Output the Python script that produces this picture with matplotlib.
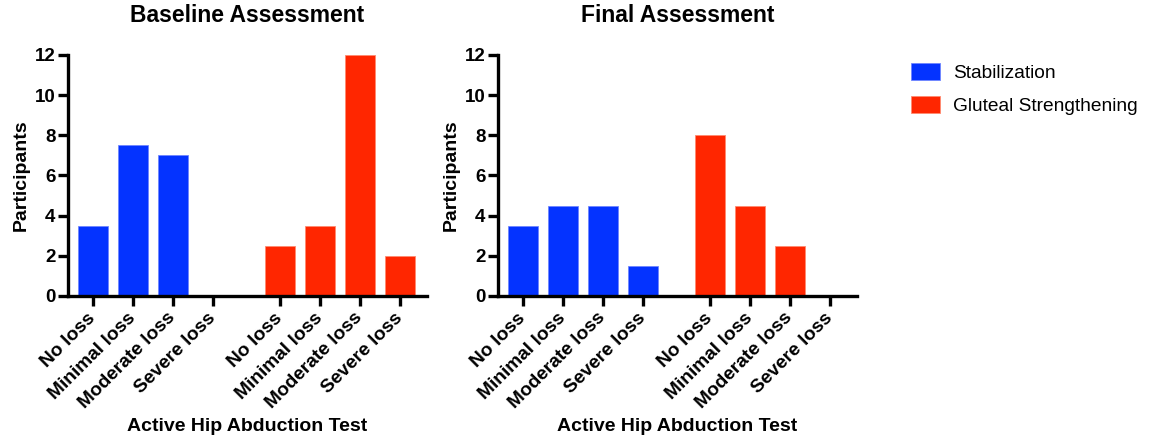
import numpy as np
import matplotlib.pyplot as plt
from matplotlib.patches import Patch

# severity categories and participant counts
categories = ['No loss', 'Minimal loss', 'Moderate loss', 'Severe loss']
groups = ['Stabilization', 'Gluteal Strengthening']
baseline_stab = [3.5, 7.5, 7.0, 0.0]
baseline_glut = [2.5, 3.5, 12.0, 2.0]
final_stab = [3.5, 4.5, 4.5, 1.5]
final_glut = [8.0, 4.5, 2.5, 0.0]
titles = ['Baseline Assessment', 'Final Assessment']
yticks = [0, 2, 4, 6, 8, 10, 12]

BLUE = '#0433FF'
RED = '#FF2600'

plt.rcParams['font.family'] = ['Liberation Sans', 'DejaVu Sans']

fig = plt.figure(figsize=(11.49, 4.37), dpi=100)

# bar positions: second group shifted by a gap
pos_stab = np.arange(4)
pos_glut = np.arange(4) + 4.67
positions = np.concatenate([pos_stab, pos_glut])

axes_left = [0.0592, 0.4334]
data = [(baseline_stab, baseline_glut), (final_stab, final_glut)]

for i in range(2):
    ax = fig.add_axes([axes_left[i], 0.3227, 0.3125, 0.5515])
    stab, glut = data[i]
    ax.bar(pos_stab, stab, width=0.75, color=BLUE, edgecolor='#6f86ff', linewidth=0.6)
    ax.bar(pos_glut, glut, width=0.75, color=RED, edgecolor='#ff8a70', linewidth=0.6)

    ax.set_xlim(-0.625, 8.35)
    ax.set_ylim(0, 12)
    ax.set_yticks(yticks)
    ax.set_xticks(positions)
    ax.set_xticklabels(categories + categories, rotation=45, ha='right',
                       va='center', rotation_mode='anchor', fontsize=13.8,
                       fontweight='bold')
    for lab in ax.get_yticklabels():
        lab.set_fontsize(13.5)
        lab.set_fontweight('bold')

    for s in ['top', 'right']:
        ax.spines[s].set_visible(False)
    for s in ['left', 'bottom']:
        ax.spines[s].set_linewidth(2.4)
    ax.tick_params(axis='both', direction='out', length=7, width=2.4, pad=2)
    ax.tick_params(axis='x', pad=7)

    ax.set_title(titles[i], fontsize=16.5, fontweight='bold', pad=24)
    ax.set_ylabel('Participants', fontsize=14, fontweight='bold')
    ax.yaxis.set_label_coords(-0.107, 0.5)
    ax.set_xlabel('Active Hip Abduction Test', fontsize=14, fontweight='bold')
    ax.xaxis.set_label_coords(0.5, -0.505)

handles = [Patch(facecolor=BLUE, edgecolor='#6f86ff', linewidth=0.6),
           Patch(facecolor=RED, edgecolor='#ff8a70', linewidth=0.6)]
fig.legend(handles, groups, loc='upper left', bbox_to_anchor=(0.778, 0.895),
           frameon=False, fontsize=13.8, handlelength=1.5, handleheight=0.95,
           handletextpad=0.7, labelspacing=0.75)

fig.savefig('out.png', dpi=100)
